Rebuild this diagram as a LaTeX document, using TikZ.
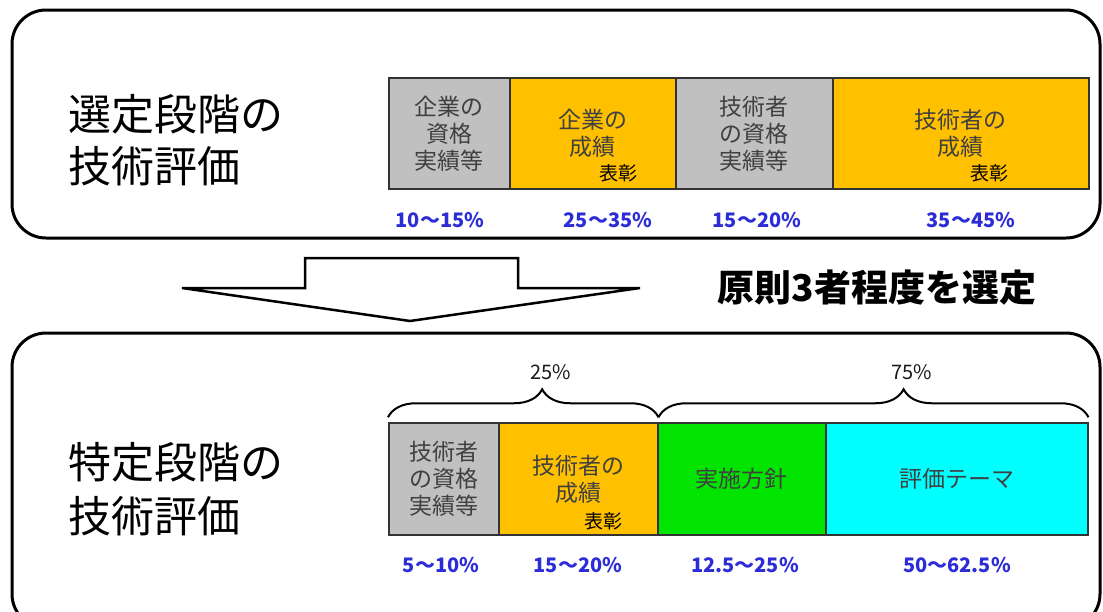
\documentclass[tikz,border=0pt]{standalone}
\usepackage{fontspec}
\setmainfont{Noto Sans CJK JP}
\usetikzlibrary{decorations.pathreplacing}
\definecolor{cellgray}{RGB}{192,192,192}
\definecolor{cellorange}{RGB}{255,192,0}
\definecolor{cellgreen}{RGB}{0,228,0}
\definecolor{cellcyan}{RGB}{0,255,255}
\definecolor{pctblue}{RGB}{45,45,215}
\begin{document}
\begin{tikzpicture}[x=1pt,y=-1pt]
      \tikzstyle{every node}=[inner sep=0pt]
      \tikzstyle{panel}=[draw, line width=3pt, rounded corners=34pt]
      \tikzstyle{cell}=[draw=black!80, line width=1.5pt, anchor=west, align=center,
        text=black!75, font=\fontsize{23}{27}\selectfont]
      \tikzstyle{hyo}=[font=\fontsize{19}{19}\selectfont]
      \tikzstyle{pct}=[text=pctblue, font=\fontsize{20}{20}\selectfont\bfseries]
      \tikzstyle{share}=[text=black!90, font=\fontsize{20}{20}\selectfont]
      \tikzstyle{title}=[anchor=west, align=left]
      \tikzstyle{brace}=[decorate, decoration={brace, amplitude=28pt, aspect=0.57}, line width=2pt]

      \clip (0,0) rectangle (1103,611);
      \draw[panel] (12,10) rectangle (1100,238);
      \draw[panel] (12,333) rectangle (1100,628);

      % selection stage
      \path (68,140) node[title, font=\fontsize{43}{52}\selectfont] (t1) {選定段階の\\技術評価};
      \path (388,133.5) node[cell, fill=cellgray, minimum width=121pt, minimum height=111pt] (s1) {企業の\\資格\\実績等};
      \path (509,133.5) node[cell, fill=cellorange, minimum width=166pt, minimum height=111pt] (s2) {企業の\\成績};
      \path (675,133.5) node[cell, fill=cellgray, minimum width=157pt, minimum height=111pt] (s3) {技術者\\の資格\\実績等};
      \path (832,133.5) node[cell, fill=cellorange, minimum width=256pt, minimum height=111pt] (s4) {技術者の\\成績};
      \path (618,173) node[hyo] (h1) {表彰};
      \path (989,173) node[hyo] (h2) {表彰};
      \foreach \x/\p [count=\i] in {440/10〜15\%, 608/25〜35\%, 757/15〜20\%, 971/35〜45\%}
      {
        \path (\x,220) node[pct] (sp\i) {\p};
      }

      % arrow
      \draw[line width=2.5pt, line join=miter]
        (305,258) -- (518,258) -- (518,288) -- (640,288) -- (410,321)
        -- (182,288) -- (305,288) -- cycle;
      \path (877,288) node[font=\fontsize{37}{37}\selectfont\bfseries] (rule) {原則3者程度を選定};

      % specific stage
      \path (68,489) node[title, font=\fontsize{43}{54}\selectfont] (t2) {特定段階の\\技術評価};
      \path (388,479) node[cell, fill=cellgray, minimum width=110pt, minimum height=112pt] (c1) {技術者\\の資格\\実績等};
      \path (498,479) node[cell, fill=cellorange, minimum width=159pt, minimum height=112pt] (c2) {技術者の\\成績};
      \path (657,479) node[cell, fill=cellgreen, minimum width=168pt, minimum height=112pt] (c3) {実施方針};
      \path (825,479) node[cell, fill=cellcyan, minimum width=262pt, minimum height=112pt] (c4) {評価テーマ};
      \path (603,521) node[hyo] (h3) {表彰};
      \foreach \x/\p [count=\i] in {441/5〜10\%, 578/15〜20\%, 745/12.5〜25\%, 957/50〜62.5\%}
      {
        \path (\x,565) node[pct] (cp\i) {\p};
      }

      \draw[brace] (c1.north west) ++(0,-5) coordinate (b1) -- (c2.north east |- b1) coordinate (b2);
      \draw[brace] (b2) -- (c4.north east |- b1);
      \path (551,372) node[share] (q1) {25\%};
      \path (912,372) node[share] (q2) {75\%};
\end{tikzpicture}
\end{document}
